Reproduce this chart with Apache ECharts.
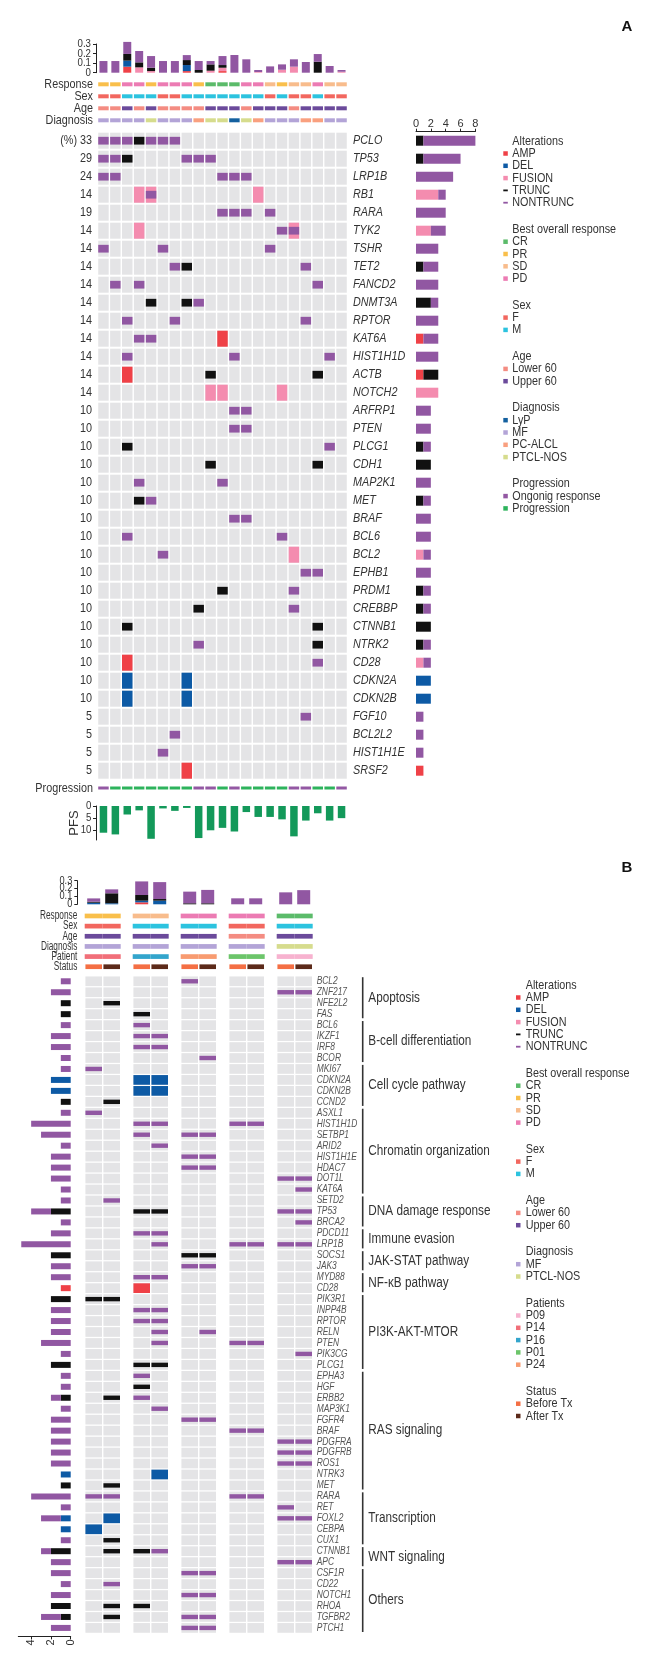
<!DOCTYPE html>
<html><head><meta charset="utf-8">
<script src="https://cdn.jsdelivr.net/npm/echarts@6/dist/echarts.min.js"></script>
<style>html,body{margin:0;padding:0;background:#fff}#c{width:657px;height:1667px}</style>
</head><body><div id="c"></div>
<script>
// ================= DATA : PANEL A =================
const samplesA = ['A01','A02','A03','A04','A05','A06','A07','A08','A09','A10','A11','A12','A13','A14','A15','A16','A17','A18','A19','A20','A21'];
const genesA = ['PCLO','TP53','LRP1B','RB1','RARA','TYK2','TSHR','TET2','FANCD2','DNMT3A','RPTOR','KAT6A','HIST1H1D','ACTB','NOTCH2','ARFRP1','PTEN','PLCG1','CDH1','MAP2K1','MET','BRAF','BCL6','BCL2','EPHB1','PRDM1','CREBBP','CTNNB1','NTRK2','CD28','CDKN2A','CDKN2B','FGF10','BCL2L2','HIST1H1E','SRSF2'];
const pctA = ['(%) 33','29','24','14','19','14','14','14','14','14','14','14','14','14','14','10','10','10','10','10','10','10','10','10','10','10','10','10','10','10','10','10','5','5','5','5'];
const annotRowsA = ['Response','Sex','Age','Diagnosis'];
const tmbTicks = [0,0.1,0.2,0.3];
// per-sample fraction bars (stack bottom -> top)
const tmbA_AMP      = [0,0,0.063,0,0,0,0,0.017,0,0,0.017,0,0,0,0,0,0,0,0,0,0];
const tmbA_DEL      = [0,0,0.063,0,0,0,0,0.063,0,0,0,0,0,0,0,0,0,0,0,0,0];
const tmbA_FUSION   = [0,0,0,0.056,0.017,0,0,0,0,0.021,0.035,0,0,0.007,0,0.031,0.063,0,0,0,0.01];
const tmbA_TRUNC    = [0,0,0.07,0.052,0.035,0,0,0.052,0.028,0.066,0.028,0,0,0,0,0,0,0,0.115,0,0];
const tmbA_NONTRUNC = [0.122,0.122,0.126,0.119,0.122,0.122,0.122,0.052,0.094,0.035,0.094,0.185,0.14,0.021,0.066,0.056,0.077,0.112,0.08,0.07,0.018];
const responseA = ['PR','PR','PD','PD','PR','PD','PD','PD','PR','CR','CR','CR','PD','PD','SD','PR','SD','SD','PD','SD','SD'];
const sexA = ['F','F','M','M','M','F','F','M','M','M','M','M','M','M','F','M','F','F','M','F','F'];
const ageA = ['Lower 60','Lower 60','Upper 60','Lower 60','Upper 60','Lower 60','Lower 60','Lower 60','Lower 60','Upper 60','Upper 60','Upper 60','Lower 60','Upper 60','Upper 60','Upper 60','Lower 60','Upper 60','Upper 60','Upper 60','Upper 60'];
const diagA = ['MF','MF','MF','MF','PTCL-NOS','MF','MF','MF','PC-ALCL','PTCL-NOS','PTCL-NOS','LyP','PTCL-NOS','PC-ALCL','MF','MF','MF','PC-ALCL','PC-ALCL','MF','MF'];
const progA = ['Ongonig response','Progression','Progression','Progression','Progression','Progression','Progression','Progression','Ongonig response','Ongonig response','Progression','Ongonig response','Progression','Progression','Progression','Progression','Ongonig response','Ongonig response','Progression','Progression','Ongonig response'];
const pfsA = [11,11.7,3.5,1.8,13.5,1,2,0.8,13.2,10,9,10.5,2.5,4.5,4.5,5.5,12.5,6,3,6,5];
const pfsTicks = [0,5,10];
// alterations: [gene, sample (1-based), type]
const altA = [
 ['PCLO',1,'N'],['PCLO',2,'N'],['PCLO',3,'N'],['PCLO',4,'T'],['PCLO',5,'N'],['PCLO',6,'N'],['PCLO',7,'N'],
 ['TP53',1,'N'],['TP53',2,'N'],['TP53',3,'T'],['TP53',8,'N'],['TP53',9,'N'],['TP53',10,'N'],
 ['LRP1B',1,'N'],['LRP1B',2,'N'],['LRP1B',11,'N'],['LRP1B',12,'N'],['LRP1B',13,'N'],
 ['RB1',4,'F'],['RB1',5,'F'],['RB1',5,'N'],['RB1',14,'F'],
 ['RARA',11,'N'],['RARA',12,'N'],['RARA',13,'N'],['RARA',15,'N'],
 ['TYK2',4,'F'],['TYK2',16,'N'],['TYK2',17,'F'],['TYK2',17,'N'],
 ['TSHR',1,'N'],['TSHR',6,'N'],['TSHR',15,'N'],
 ['TET2',7,'N'],['TET2',8,'T'],['TET2',18,'N'],
 ['FANCD2',2,'N'],['FANCD2',4,'N'],['FANCD2',19,'N'],
 ['DNMT3A',5,'T'],['DNMT3A',8,'T'],['DNMT3A',9,'N'],
 ['RPTOR',3,'N'],['RPTOR',7,'N'],['RPTOR',18,'N'],
 ['KAT6A',4,'N'],['KAT6A',5,'N'],['KAT6A',11,'A'],
 ['HIST1H1D',3,'N'],['HIST1H1D',12,'N'],['HIST1H1D',20,'N'],
 ['ACTB',3,'A'],['ACTB',10,'T'],['ACTB',19,'T'],
 ['NOTCH2',10,'F'],['NOTCH2',11,'F'],['NOTCH2',16,'F'],
 ['ARFRP1',12,'N'],['ARFRP1',13,'N'],
 ['PTEN',12,'N'],['PTEN',13,'N'],
 ['PLCG1',3,'T'],['PLCG1',20,'N'],
 ['CDH1',10,'T'],['CDH1',19,'T'],
 ['MAP2K1',4,'N'],['MAP2K1',11,'N'],
 ['MET',4,'T'],['MET',5,'N'],
 ['BRAF',12,'N'],['BRAF',13,'N'],
 ['BCL6',3,'N'],['BCL6',16,'N'],
 ['BCL2',6,'N'],['BCL2',17,'F'],
 ['EPHB1',18,'N'],['EPHB1',19,'N'],
 ['PRDM1',11,'T'],['PRDM1',17,'N'],
 ['CREBBP',9,'T'],['CREBBP',17,'N'],
 ['CTNNB1',3,'T'],['CTNNB1',19,'T'],
 ['NTRK2',9,'N'],['NTRK2',19,'T'],
 ['CD28',3,'A'],['CD28',19,'N'],
 ['CDKN2A',3,'D'],['CDKN2A',8,'D'],
 ['CDKN2B',3,'D'],['CDKN2B',8,'D'],
 ['FGF10',18,'N'],['BCL2L2',7,'N'],['HIST1H1E',6,'N'],['SRSF2',8,'A']
];
// gene count bars (right of panel A)
const cntA_AMP      = [0,0,0,0,0,0,0,0,0,0,0,1,0,1,0,0,0,0,0,0,0,0,0,0,0,0,0,0,0,0,0,0,0,0,0,1];
const cntA_DEL      = [0,0,0,0,0,0,0,0,0,0,0,0,0,0,0,0,0,0,0,0,0,0,0,0,0,0,0,0,0,0,2,2,0,0,0,0];
const cntA_FUSION   = [0,0,0,3,0,2,0,0,0,0,0,0,0,0,3,0,0,0,0,0,0,0,0,1,0,0,0,0,0,1,0,0,0,0,0,0];
const cntA_TRUNC    = [1,1,0,0,0,0,0,1,0,2,0,0,0,2,0,0,0,1,2,0,1,0,0,0,0,1,1,2,1,0,0,0,0,0,0,0];
const cntA_NONTRUNC = [7,5,5,1,4,2,3,2,3,1,3,2,3,0,0,2,2,1,0,2,1,2,2,1,2,1,1,0,1,1,0,0,1,1,1,0];

// ================= DATA : PANEL B =================
const groupsB = ['P14','P16','P24','P01','P09'];
const statusB = ['Before Tx','After Tx'];
const annotRowsB = ['Response','Sex','Age','Diagnosis','Patient','Status'];
const genesB = ['BCL2','ZNF217','NFE2L2','FAS','BCL6','IKZF1','IRF8','BCOR','MKI67','CDKN2A','CDKN2B','CCND2','ASXL1','HIST1H1D','SETBP1','ARID2','HIST1H1E','HDAC7','DOT1L','KAT6A','SETD2','TP53','BRCA2','PDCD11','LRP1B','SOCS1','JAK3','MYD88','CD28','PIK3R1','INPP4B','RPTOR','RELN','PTEN','PIK3CG','PLCG1','EPHA3','HGF','ERBB2','MAP3K1','FGFR4','BRAF','PDGFRA','PDGFRB','ROS1','NTRK3','MET','RARA','RET','FOXL2','CEBPA','CUX1','CTNNB1','APC','CSF1R','CD22','NOTCH1','RHOA','TGFBR2','PTCH1'];
const tmbB_AMP      = [0,0,0.025,0,0,0,0,0,0,0];
const tmbB_DEL      = [0.02,0.013,0.021,0.046,0,0,0,0,0,0];
const tmbB_TRUNC    = [0.013,0.127,0.072,0.021,0.013,0.013,0,0,0,0];
const tmbB_NONTRUNC = [0.042,0.05,0.173,0.215,0.148,0.17,0.076,0.076,0.152,0.18];
const responseB = ['PR','SD','PD','PD','CR'];
const sexB = ['F','M','M','F','M'];
const ageB = ['Upper 60','Upper 60','Upper 60','Lower 60','Upper 60'];
const diagB = ['MF','MF','MF','MF','PTCL-NOS'];
const cntTicksB = [0,2,4];
// alterations: [gene, column 0-9 (group*2 + before/after), type]
const altB = [
 ['BCL2',4,'N'],['ZNF217',8,'N'],['ZNF217',9,'N'],['NFE2L2',1,'T'],['FAS',2,'T'],['BCL6',2,'N'],
 ['IKZF1',2,'N'],['IKZF1',3,'N'],['IRF8',2,'N'],['IRF8',3,'N'],['BCOR',5,'N'],['MKI67',0,'N'],
 ['CDKN2A',2,'D'],['CDKN2A',3,'D'],['CDKN2B',2,'D'],['CDKN2B',3,'D'],['CCND2',1,'T'],['ASXL1',0,'N'],
 ['HIST1H1D',2,'N'],['HIST1H1D',3,'N'],['HIST1H1D',6,'N'],['HIST1H1D',7,'N'],
 ['SETBP1',2,'N'],['SETBP1',4,'N'],['SETBP1',5,'N'],['ARID2',3,'N'],
 ['HIST1H1E',4,'N'],['HIST1H1E',5,'N'],['HDAC7',4,'N'],['HDAC7',5,'N'],['DOT1L',8,'N'],['DOT1L',9,'N'],
 ['KAT6A',9,'N'],['SETD2',1,'N'],['TP53',2,'T'],['TP53',3,'T'],['TP53',8,'N'],['TP53',9,'N'],['BRCA2',9,'N'],
 ['PDCD11',2,'N'],['PDCD11',3,'N'],['LRP1B',3,'N'],['LRP1B',6,'N'],['LRP1B',7,'N'],['LRP1B',8,'N'],['LRP1B',9,'N'],
 ['SOCS1',4,'T'],['SOCS1',5,'T'],['JAK3',4,'N'],['JAK3',5,'N'],['MYD88',2,'N'],['MYD88',3,'N'],['CD28',2,'A'],
 ['PIK3R1',0,'T'],['PIK3R1',1,'T'],['INPP4B',2,'N'],['INPP4B',3,'N'],['RPTOR',2,'N'],['RPTOR',3,'N'],
 ['RELN',3,'N'],['RELN',5,'N'],['PTEN',3,'N'],['PTEN',6,'N'],['PTEN',7,'N'],['PIK3CG',9,'N'],
 ['PLCG1',2,'T'],['PLCG1',3,'T'],['EPHA3',2,'N'],['HGF',2,'T'],['ERBB2',1,'T'],['ERBB2',2,'N'],['MAP3K1',3,'N'],
 ['FGFR4',4,'N'],['FGFR4',5,'N'],['BRAF',6,'N'],['BRAF',7,'N'],['PDGFRA',8,'N'],['PDGFRA',9,'N'],
 ['PDGFRB',8,'N'],['PDGFRB',9,'N'],['ROS1',8,'N'],['ROS1',9,'N'],['NTRK3',3,'D'],['MET',1,'T'],
 ['RARA',0,'N'],['RARA',1,'N'],['RARA',6,'N'],['RARA',7,'N'],['RET',8,'N'],
 ['FOXL2',1,'D'],['FOXL2',8,'N'],['FOXL2',9,'N'],['CEBPA',0,'D'],['CUX1',1,'T'],
 ['CTNNB1',1,'T'],['CTNNB1',2,'T'],['CTNNB1',3,'N'],['APC',8,'N'],['APC',9,'N'],
 ['CSF1R',4,'N'],['CSF1R',5,'N'],['CD22',1,'N'],['NOTCH1',4,'N'],['NOTCH1',5,'N'],
 ['RHOA',1,'T'],['RHOA',2,'T'],['TGFBR2',1,'T'],['TGFBR2',4,'N'],['TGFBR2',5,'N'],['PTCH1',4,'N'],['PTCH1',5,'N']
];
const cntB_AMP      = [0,0,0,0,0,0,0,0,0,0,0,0,0,0,0,0,0,0,0,0,0,0,0,0,0,0,0,0,1,0,0,0,0,0,0,0,0,0,0,0,0,0,0,0,0,0,0,0,0,0,0,0,0,0,0,0,0,0,0,0];
const cntB_DEL      = [0,0,0,0,0,0,0,0,0,2,2,0,0,0,0,0,0,0,0,0,0,0,0,0,0,0,0,0,0,0,0,0,0,0,0,0,0,0,0,0,0,0,0,0,0,1,0,0,0,1,1,0,0,0,0,0,0,0,0,0];
const cntB_TRUNC    = [0,0,1,1,0,0,0,0,0,0,0,1,0,0,0,0,0,0,0,0,0,2,0,0,0,2,0,0,0,2,0,0,0,0,0,2,0,0,1,0,0,0,0,0,0,0,1,0,0,0,0,0,2,0,0,0,0,2,1,0];
const cntB_NONTRUNC = [1,2,0,0,1,2,2,1,1,0,0,0,1,4,3,1,2,2,2,1,1,2,1,2,5,0,2,2,0,0,2,2,2,3,1,0,1,1,1,1,2,2,2,2,2,0,0,4,1,2,0,1,1,2,2,1,2,0,2,2];
const pathwayNames = ['Apoptosis','B-cell differentiation','Cell cycle pathway','Chromatin organization','DNA damage response','Immune evasion','JAK-STAT pathway','NF-\u03BAB pathway','PI3K-AKT-MTOR','RAS signaling','Transcription','WNT signaling','Others'];
const pathwayFirst = ['BCL2','BCL6','MKI67','ASXL1','SETD2','PDCD11','SOCS1','MYD88','PIK3R1','EPHA3','RARA','CTNNB1','CSF1R'];
const pathwayLast  = ['FAS','BCOR','CCND2','KAT6A','BRCA2','LRP1B','JAK3','CD28','PLCG1','MET','CUX1','APC','PTCH1'];

// ================= STYLE =================
const LF = "'Liberation Sans',Arial,Helvetica,sans-serif";
const SX = 0.8;           // horizontal squeeze to imitate the condensed face
const TXT = '#333333';
const GRAY = '#E4E4E6';
const ALT = {A:'#EF4147', D:'#0D5AA5', F:'#F48CAF', T:'#111111', N:'#9157A2'};
const RESP = {CR:'#5BBB6A', PR:'#F9BF4B', SD:'#F8BC8C', PD:'#EC7BB3'};
const SEX = {F:'#F2675F', M:'#2CC3DF'};
const AGE = {'Lower 60':'#F48C82','Upper 60':'#6B4A9B'};
const DIAG = {LyP:'#14609F', MF:'#B3A4D7','PC-ALCL':'#F9A07F','PTCL-NOS':'#D6DC8D'};
const PROG = {'Ongonig response':'#9358A3', Progression:'#2DB35C'};
const PAT = {P09:'#F7B2CF',P14:'#F16F79',P16:'#33A5CC',P01:'#6CC56A',P24:'#F89B70'};
const STAT = {'Before Tx':'#F46F44','After Tx':'#5C2A1A'};
const FULLTYPE = {A:1,D:1,F:1,T:0,N:0};

// ================= BUILD =================
const grids=[], xAx=[], yAx=[], ser=[];
const NO={show:false};
function G(l,t,w,h){grids.push({left:l,top:t,width:w,height:h}); return grids.length-1;}
function X(o){xAx.push(o); return xAx.length-1;}
function Y(o){yAx.push(o); return yAx.length-1;}
function cat(gi,data,ext){return Object.assign({gridIndex:gi,type:'category',data,boundaryGap:true,axisLine:NO,axisTick:NO,axisLabel:NO,splitLine:NO},ext||{});}
function val(gi,ext){return Object.assign({gridIndex:gi,type:'value',axisLine:NO,axisTick:NO,axisLabel:NO,splitLine:NO},ext||{});}
const LINE = {show:true,lineStyle:{color:'#222',width:1}};
const TICK = {show:true,length:3,lineStyle:{color:'#222',width:1}};
function tickLab(size,extra){return Object.assign({show:true,fontSize:size,color:TXT,margin:2,fontFamily:LF,showMinLabel:true,showMaxLabel:true,hideOverlap:false},extra||{});}
function cells(xi,yi,items,z){
  return {type:'custom',xAxisIndex:xi,yAxisIndex:yi,z:z,silent:true,clip:false,animation:false,
    data:items.map(d=>({value:[d.x,d.y,d.h,d.w],itemStyle:{color:d.c}})),
    renderItem:(p,api)=>{const c=api.coord([api.value(0),api.value(1)]);const s=api.size([1,1]);
      const w=s[0]*api.value(3);const hv=api.value(2);const h=hv<=1?s[1]*hv:hv;
      return {type:'rect',shape:{x:c[0]-w/2,y:c[1]-h/2,width:w,height:h},style:{fill:api.visual('color')}};}};
}
// row labels placed beside a category grid (left or right of a given column)
function labels(xi,yi,texts,colIdx,side,margin,size,sx,opt){
  opt=opt||{};
  return {type:'custom',xAxisIndex:xi,yAxisIndex:yi,z:3,silent:true,clip:false,animation:false,
    data:texts.map((t,i)=>[colIdx,i]),
    renderItem:(p,api)=>{const c=api.coord([api.value(0),api.value(1)]);const bw=api.size([1,0])[0];
      const x=side==='left'?c[0]-bw/2-margin:c[0]+bw/2+margin;
      return {type:'text',x,y:c[1]+(opt.dy||0),scaleX:sx,style:{text:texts[p.dataIndex],fill:opt.color||TXT,
        font:(opt.italic?'italic ':'')+size+'px '+LF,align:side==='left'?'right':'left',verticalAlign:'middle'}};}};
}
// tick labels of a vertical value axis, positioned through the axis scale
function yTickLabels(xi,yi,vals,gap,size,fmt){
  return {type:'custom',xAxisIndex:xi,yAxisIndex:yi,z:3,silent:true,clip:false,animation:false,
    data:vals.map(v=>[0,v]),
    renderItem:(p,api)=>{const c=api.coord([0,api.value(1)]);const bw=api.size([1,0])[0];
      return {type:'text',x:c[0]-bw/2-gap,y:c[1],scaleX:0.88,style:{text:fmt(vals[p.dataIndex]),fill:TXT,
        font:size+'px '+LF,align:'right',verticalAlign:'middle'}};}};
}
function bar(xi,yi,data,color,stack,bw){return {type:'bar',xAxisIndex:xi,yAxisIndex:yi,data,stack,barWidth:bw,itemStyle:{color},silent:true,animation:false,clip:false};}
const tmbFmt = v => v===0?'0':v.toFixed(1);

// ---------- Panel A ----------
const AX = 97.5, AW = 250;
let g = G(AX,44,AW,28.7);
let xi = X(cat(g,samplesA));
let yi = Y(val(g,{min:0,max:0.3,interval:0.1,offset:1.5,axisLine:LINE,axisTick:TICK}));
[[tmbA_AMP,ALT.A],[tmbA_DEL,ALT.D],[tmbA_FUSION,ALT.F],[tmbA_TRUNC,ALT.T],[tmbA_NONTRUNC,ALT.N]]
  .forEach(([d,c])=>ser.push(bar(xi,yi,d,c,'tA',8)));
ser.push(yTickLabels(xi,yi,tmbTicks,6.5,11,tmbFmt));
// annotation rows
g = G(AX,78.3,AW,48);
xi = X(cat(g,samplesA));
yi = Y(cat(g,annotRowsA,{inverse:true}));
{
  const items=[];
  [[responseA,RESP],[sexA,SEX],[ageA,AGE],[diagA,DIAG]].forEach(([arr,map],r)=>arr.forEach((v,c)=>items.push({x:c,y:r,h:4,w:0.88,c:map[v]})));
  ser.push(cells(xi,yi,items,2));
  ser.push(labels(xi,yi,annotRowsA,0,'left',4.5,13.5,SX));
}
// gene grid
g = G(AX,131.7,AW,648);
xi = X(cat(g,samplesA));
yi = Y(cat(g,genesA,{inverse:true}));
{
  const bg=[]; genesA.forEach((gn,r)=>samplesA.forEach((s,c)=>bg.push({x:c,y:r,h:0.89,w:0.88,c:GRAY})));
  ser.push(cells(xi,yi,bg,1));
  const al=altA.slice().sort((a,b)=>FULLTYPE[b[2]]-FULLTYPE[a[2]])
    .map(([gn,s,t])=>({x:s-1,y:genesA.indexOf(gn),h:FULLTYPE[t]?0.89:0.43,w:0.88,c:ALT[t]}));
  ser.push(cells(xi,yi,al,2));
  ser.push(labels(xi,yi,pctA,0,'left',5.5,13.5,SX));
  ser.push(labels(xi,yi,genesA,samplesA.length-1,'right',5.5,13.5,SX,{italic:true}));
}
// right count bars
g = G(416,131.7,59.4,648);
xi = X(val(g,{min:0,max:8,interval:2,position:'top',axisLine:LINE,axisTick:TICK,axisLabel:tickLab(11)}));
yi = Y(cat(g,genesA,{inverse:true}));
[[cntA_AMP,ALT.A],[cntA_DEL,ALT.D],[cntA_FUSION,ALT.F],[cntA_TRUNC,ALT.T],[cntA_NONTRUNC,ALT.N]]
  .forEach(([d,c])=>ser.push(bar(xi,yi,d,c,'cA',10)));
// progression row
g = G(AX,782,AW,12);
xi = X(cat(g,samplesA));
yi = Y(cat(g,['Progression']));
ser.push(cells(xi,yi,progA.map((v,c)=>({x:c,y:0,h:3,w:0.88,c:PROG[v]})),2));
ser.push(labels(xi,yi,['Progression'],0,'left',4.5,13.5,SX));
// PFS bars
g = G(AX,806,AW,34);
xi = X(cat(g,samplesA));
yi = Y(val(g,{inverse:true,min:0,max:14,offset:1.5,axisLine:LINE,
  axisTick:{show:true,length:3,lineStyle:{color:'#222'},customValues:pfsTicks},
  name:'PFS',nameLocation:'middle',nameRotate:90,nameGap:15,nameMoveOverlap:false,
  nameTextStyle:{fontSize:13,color:TXT,fontFamily:LF}}));
ser.push(bar(xi,yi,pfsA,'#13995A','pA',7.5));
ser.push(yTickLabels(xi,yi,pfsTicks,6,11,v=>String(v)));

// ---------- Panel B ----------
const BT = 975.8, BH = 657.6;
g = G(18.3,BT,52.4,BH);
xi = X(val(g,{inverse:true,min:0,max:5.3,position:'bottom',offset:3,axisLine:LINE,
  axisTick:{show:true,length:3,lineStyle:{color:'#222'},customValues:cntTicksB},
  axisLabel:tickLab(11,{margin:3,rotate:90,customValues:cntTicksB})}));
yi = Y(cat(g,genesB,{inverse:true}));
[[cntB_AMP,ALT.A],[cntB_DEL,ALT.D],[cntB_TRUNC,ALT.T],[cntB_NONTRUNC,ALT.N]]
  .forEach(([d,c])=>ser.push(bar(xi,yi,d,c,'cB',6)));
groupsB.forEach((pat,gIdx)=>{
  const L = 84.7 + gIdx*48, W = 36;
  const cols = [0,1].map(k=>pat+' '+statusB[k]);
  let gg = G(L,880.7,W,23.6);
  let xx = X(cat(gg,cols));
  let yy = Y(val(gg,Object.assign({min:0,max:0.3,interval:0.1},gIdx===0?{offset:7.4,axisLine:LINE,axisTick:TICK}:{})));
  [[tmbB_AMP,ALT.A],[tmbB_DEL,ALT.D],[tmbB_TRUNC,ALT.T],[tmbB_NONTRUNC,ALT.N]]
    .forEach(([d,c])=>ser.push(bar(xx,yy,d.slice(gIdx*2,gIdx*2+2),c,'tB'+gIdx,13)));
  if(gIdx===0) ser.push(yTickLabels(xx,yy,tmbTicks,12.4,10.5,tmbFmt));
  gg = G(L,910.9,W,60.9);
  xx = X(cat(gg,cols));
  yy = Y(cat(gg,annotRowsB,{inverse:true}));
  const an=[];
  [0,1].forEach(k=>{
    [RESP[responseB[gIdx]],SEX[sexB[gIdx]],AGE[ageB[gIdx]],DIAG[diagB[gIdx]],PAT[pat]].forEach((c,r)=>an.push({x:k,y:r,h:4.7,w:1.0,c}));
    an.push({x:k,y:5,h:4.7,w:0.92,c:STAT[statusB[k]]});
  });
  ser.push(cells(xx,yy,an,2));
  if(gIdx===0) ser.push(labels(xx,yy,annotRowsB,0,'left',7.4,12,0.69));
  gg = G(L,BT,W,BH);
  xx = X(cat(gg,cols));
  yy = Y(cat(gg,genesB,{inverse:true}));
  const bg=[]; genesB.forEach((gn,r)=>[0,1].forEach(k=>bg.push({x:k,y:r,h:0.885,w:0.92,c:GRAY})));
  ser.push(cells(xx,yy,bg,1));
  const al=altB.filter(a=>Math.floor(a[1]/2)===gIdx).sort((a,b)=>FULLTYPE[b[2]]-FULLTYPE[a[2]])
    .map(([gn,cc,t])=>({x:cc%2,y:genesB.indexOf(gn),h:FULLTYPE[t]?0.885:0.4,w:0.92,c:ALT[t]}));
  ser.push(cells(xx,yy,al,2));
  if(gIdx===groupsB.length-1) ser.push(labels(xx,yy,genesB,1,'right',4,10.5,SX,{italic:true,color:'#555'}));
});
// pathway brackets
g = G(362.7,BT,150,BH);
xi = X(val(g,{min:0,max:1}));
yi = Y(cat(g,genesB,{inverse:true}));
ser.push({type:'custom',xAxisIndex:xi,yAxisIndex:yi,silent:true,clip:false,animation:false,
  data:pathwayNames.map((n,i)=>[0,genesB.indexOf(pathwayFirst[i]),genesB.indexOf(pathwayLast[i])]),
  renderItem:(p,api)=>{
    const c1=api.coord([0,api.value(1)]), c2=api.coord([0,api.value(2)]);
    const hh=api.size([0,1])[1]/2; const y1=c1[1]-hh+1.4, y2=c2[1]+hh-1.4;
    return {type:'group',children:[
      {type:'line',shape:{x1:c1[0],y1,x2:c1[0],y2},style:{stroke:'#333',lineWidth:1.6}},
      {type:'text',x:c1[0]+5.6,y:(y1+y2)/2,scaleX:0.84,style:{text:pathwayNames[p.dataIndex],fill:'#333',font:'14px '+LF,verticalAlign:'middle',align:'left'}}
    ]};
  }});

// ---------- Legends ----------
const legendA = [
 ['Alterations',[['AMP',ALT.A,0],['DEL',ALT.D,0],['FUSION',ALT.F,0],['TRUNC',ALT.T,1],['NONTRUNC',ALT.N,1]]],
 ['Best overall response',[['CR',RESP.CR,0],['PR',RESP.PR,0],['SD',RESP.SD,0],['PD',RESP.PD,0]]],
 ['Sex',[['F',SEX.F,0],['M',SEX.M,0]]],
 ['Age',[['Lower 60',AGE['Lower 60'],0],['Upper 60',AGE['Upper 60'],0]]],
 ['Diagnosis',[['LyP',DIAG.LyP,0],['MF',DIAG.MF,0],['PC-ALCL',DIAG['PC-ALCL'],0],['PTCL-NOS',DIAG['PTCL-NOS'],0]]],
 ['Progression',[['Ongonig response',PROG['Ongonig response'],0],['Progression',PROG.Progression,0]]]
];
const legendB = [
 ['Alterations',[['AMP',ALT.A,0],['DEL',ALT.D,0],['FUSION',ALT.F,0],['TRUNC',ALT.T,1],['NONTRUNC',ALT.N,1]]],
 ['Best overall response',[['CR',RESP.CR,0],['PR',RESP.PR,0],['SD',RESP.SD,0],['PD',RESP.PD,0]]],
 ['Sex',[['F',SEX.F,0],['M',SEX.M,0]]],
 ['Age',[['Lower 60',AGE['Lower 60'],0],['Upper 60',AGE['Upper 60'],0]]],
 ['Diagnosis',[['MF',DIAG.MF,0],['PTCL-NOS',DIAG['PTCL-NOS'],0]]],
 ['Patients',[['P09',PAT.P09,0],['P14',PAT.P14,0],['P16',PAT.P16,0],['P01',PAT.P01,0],['P24',PAT.P24,0]]],
 ['Status',[['Before Tx',STAT['Before Tx'],0],['After Tx',STAT['After Tx'],0]]]
];
const gfx=[];
function txt(x,y,t){return {type:'text',x,y,scaleX:0.83,silent:true,style:{text:t,fill:TXT,font:'13px '+LF,verticalAlign:'middle',align:'left'}};}
function buildLegend(secs,mx,tx,y0){
  let y=y0;
  secs.forEach(([title,items])=>{
    gfx.push(txt(tx,y,title));
    y+=12.5;
    items.forEach(([lab,col,dash])=>{
      const h=dash?1.8:4.5;
      gfx.push({type:'rect',silent:true,shape:{x:mx,y:y-h/2,width:4.5,height:h},style:{fill:col}});
      gfx.push(txt(tx,y,lab));
      y+=12.3;
    });
    y+=26.5-12.3;
  });
}
buildLegend(legendA,503.3,512.3,141);
buildLegend(legendB,516,525.7,985);
gfx.push({type:'text',x:627,y:27,silent:true,style:{text:'A',fill:'#111',font:'bold 15px '+LF,align:'center',verticalAlign:'middle'}});
gfx.push({type:'text',x:627,y:868,silent:true,style:{text:'B',fill:'#111',font:'bold 15px '+LF,align:'center',verticalAlign:'middle'}});

const chart = echarts.init(document.getElementById('c'),null,{renderer:'canvas'});
chart.setOption({animation:false,backgroundColor:'#fff',textStyle:{fontFamily:LF},
  grid:grids,xAxis:xAx,yAxis:yAx,series:ser,graphic:{elements:gfx}});
</script></body></html>
